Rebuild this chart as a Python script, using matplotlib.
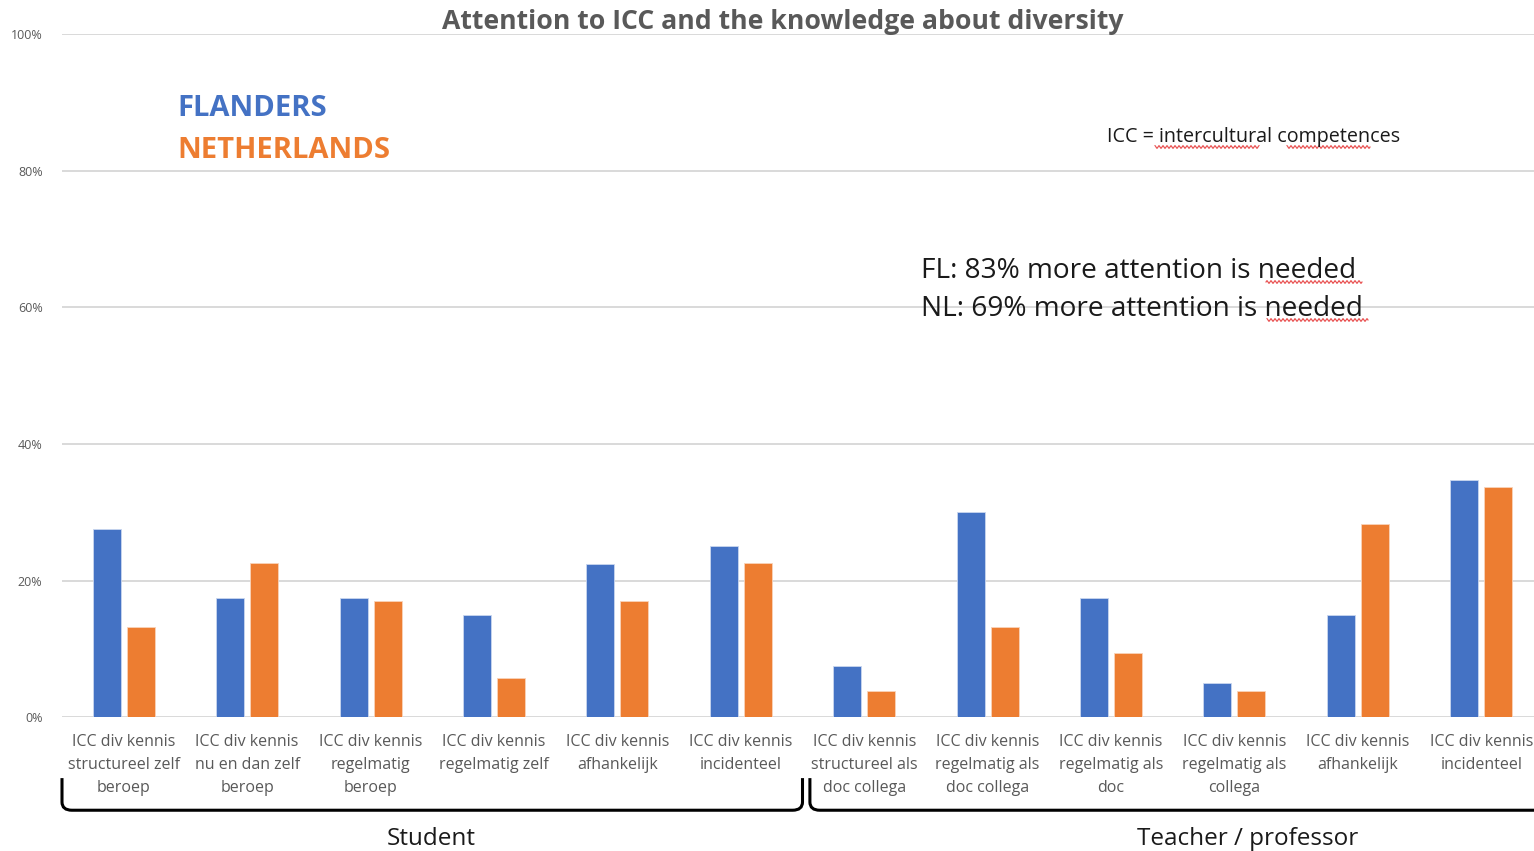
import numpy as np
import matplotlib
matplotlib.use("Agg")
import matplotlib.pyplot as plt
from matplotlib.path import Path
from matplotlib.patches import PathPatch
import matplotlib.transforms as mtransforms

plt.rcParams['font.family'] = ['Open Sans', 'DejaVu Sans']

# data (percent)
categories = [
    "ICC div kennis\nstructureel zelf\nberoep",
    "ICC div kennis\nnu en dan zelf\nberoep",
    "ICC div kennis\nregelmatig\nberoep",
    "ICC div kennis\nregelmatig zelf",
    "ICC div kennis\nafhankelijk",
    "ICC div kennis\nincidenteel",
    "ICC div kennis\nstructureel als\ndoc collega",
    "ICC div kennis\nregelmatig als\ndoc collega",
    "ICC div kennis\nregelmatig als\ndoc",
    "ICC div kennis\nregelmatig als\ncollega",
    "ICC div kennis\nafhankelijk",
    "ICC div kennis\nincidenteel",
]
flanders = [27.5, 17.4, 17.4, 14.9, 22.4, 25.0, 7.5, 30.0, 17.4, 5.0, 14.9, 34.8]
netherlands = [13.2, 22.6, 17.0, 5.7, 17.0, 22.6, 3.8, 13.2, 9.4, 3.8, 28.3, 33.7]
y_ticks = [0, 20, 40, 60, 80, 100]
y_tick_labels = ["0%", "20%", "40%", "60%", "80%", "100%"]

BLUE = "#4472C4"
ORANGE = "#ED7D31"
GREY = "#595959"

W, H = 1534, 851
fig = plt.figure(figsize=(W / 100, H / 100), dpi=100)

def fx(px):
    return px / W

def fy(py):
    return 1 - py / H

# plot area: 0% at y=717, 100% at y=34, left edge x=62, 12 slots of ~123.4 px
ax = fig.add_axes([fx(62), fy(717.3), 1481 / W, (717.3 - 34) / H])

x = np.arange(len(categories))
bw = 0.227
off = 0.138
ax.bar(x - off, flanders, bw, color=BLUE, edgecolor="#c9d6ef", linewidth=0.6, zorder=3)
ax.bar(x + off, netherlands, bw, color=ORANGE, edgecolor="#f9d3b9", linewidth=0.6, zorder=3)

ax.set_xlim(-0.5, len(categories) - 0.5)
ax.set_ylim(0, 100)
ax.set_yticks(y_ticks)
ax.set_yticklabels(y_tick_labels, fontsize=9, color=GREY)
ax.set_xticks(x)
ax.set_xticklabels(categories, fontsize=11.5, color=GREY, linespacing=1.6)
ax.tick_params(axis="x", length=0, pad=12)
ax.tick_params(axis="y", length=0, pad=14)
ax.grid(axis="y", color="#d9d9d9", linewidth=1.4, zorder=0)
for s in ax.spines.values():
    s.set_visible(False)

# title
fig.text(fx(783), fy(22), "Attention to ICC and the knowledge about diversity",
         ha="center", va="center", fontsize=19.2, fontweight="bold", color=GREY)

# legend-like labels
fig.text(fx(177), fy(109), "FLANDERS", ha="left", va="center",
         fontsize=21, fontweight="bold", color=BLUE)
fig.text(fx(177), fy(151), "NETHERLANDS", ha="left", va="center",
         fontsize=21, fontweight="bold", color=ORANGE)

# notes
fig.text(fx(1107), fy(137), "ICC = intercultural competences", ha="left", va="center",
         fontsize=14.2, color="#1a1a1a")
fig.text(fx(921), fy(271), "FL: 83% more attention is needed", ha="left", va="center",
         fontsize=20.2, color="#1a1a1a")
fig.text(fx(921), fy(309), "NL: 69% more attention is needed", ha="left", va="center",
         fontsize=20.2, color="#1a1a1a")

# spell-check squiggles
def squiggle(x0, x1, y):
    xs = np.linspace(x0, x1, int((x1 - x0) * 2))
    ys = y + 1.3 * np.sin(xs * 2 * np.pi / 4.0)
    fig.add_artist(plt.Line2D(fx(xs), fy(ys), color="#e84a4a", linewidth=0.8))

squiggle(1155, 1259, 147)
squiggle(1287, 1370, 147)
squiggle(1266, 1362, 282)
squiggle(1267, 1368, 320)

# group brackets (x in data, y in axes fraction)
trans = mtransforms.blended_transform_factory(ax.transData, ax.transAxes)
top, bot = -0.089, -0.136
r = 0.08
verts = [(-0.5, top), (-0.5, bot + 0.012), (-0.5, bot), (-0.5 + r, bot),
         (5.5 - r, bot), (5.5, bot), (5.5, bot + 0.012), (5.5, top)]
codes = [Path.MOVETO, Path.LINETO, Path.CURVE3, Path.CURVE3,
         Path.LINETO, Path.CURVE3, Path.CURVE3, Path.LINETO]
ax.add_patch(PathPatch(Path(verts, codes), transform=trans, fill=False,
                       edgecolor="black", linewidth=2.2, clip_on=False))
s2 = 5.56
verts2 = [(s2, top), (s2, bot + 0.012), (s2, bot), (s2 + r, bot), (12.5, bot)]
codes2 = [Path.MOVETO, Path.LINETO, Path.CURVE3, Path.CURVE3, Path.LINETO]
ax.add_patch(PathPatch(Path(verts2, codes2), transform=trans, fill=False,
                       edgecolor="black", linewidth=2.2, clip_on=False))

ax.text(2.49, -0.178, "Student", transform=trans, ha="center", va="center",
        fontsize=17.5, color="#1a1a1a")
ax.text(9.11, -0.178, "Teacher / professor", transform=trans, ha="center", va="center",
        fontsize=17.5, color="#1a1a1a")

fig.savefig("out.png", dpi=100)
